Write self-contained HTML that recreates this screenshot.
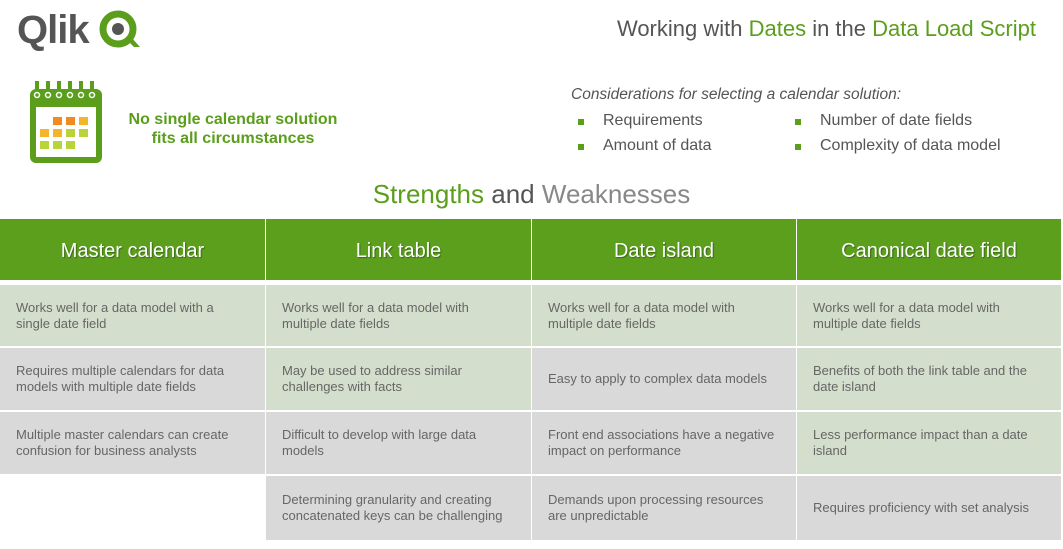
<!DOCTYPE html>
<html><head><meta charset="utf-8"><style>
*{margin:0;padding:0;box-sizing:border-box}
body{width:1063px;height:549px;background:#fff;position:relative;overflow:hidden;font-family:"Liberation Sans",sans-serif}
.a{position:absolute}
.g{color:#5a9e1c}
.hd{position:absolute;top:219px;height:61px;background:#5b9f1d;color:#fff;font-size:20px;display:flex;align-items:center;justify-content:center;padding-top:3px;text-shadow:1px 1px 1px rgba(0,0,0,.35)}
.c{position:absolute;color:#666;font-size:13px;line-height:16px;padding-left:16px;white-space:nowrap;display:flex;align-items:center}
.gr{background:#d3dfcc}.gy{background:#d9d9d9}
.bl{position:absolute;width:6px;height:6px;background:#5a9e1c}
.li{position:absolute;font-size:16px;color:#555}
</style></head><body>
<div class="a" style="left:17px;top:8px;font-size:40px;font-weight:bold;color:#555;letter-spacing:-1px">Qlik</div>
<svg class="a" style="left:98px;top:9px" width="46" height="42"><circle cx="20" cy="20" r="15" fill="none" stroke="#5a9e1c" stroke-width="7"/><circle cx="20" cy="20" r="6" fill="#555"/><path d="M27 29 L36 38 L42 38 L32 27Z" fill="#5a9e1c"/></svg>
<div class="a" style="right:27px;top:16px;font-size:22px;color:#555">Working with <span class="g">Dates</span> in the <span class="g">Data Load Script</span></div>
<svg class="a" style="left:29px;top:81px" width="76" height="84">
<rect x="1" y="8" width="72" height="74" rx="6" fill="#5a9e1c"/><rect x="7" y="26" width="60" height="50" fill="#fff"/>
<g fill="#5a9e1c"><rect x="6" y="0" width="4" height="10"/><rect x="17" y="0" width="4" height="10"/><rect x="28" y="0" width="4" height="10"/><rect x="39" y="0" width="4" height="10"/><rect x="50" y="0" width="4" height="10"/><rect x="61" y="0" width="4" height="10"/></g>
<g fill="none" stroke="#fff" stroke-width="1.5"><circle cx="8" cy="14" r="2.5"/><circle cx="19" cy="14" r="2.5"/><circle cx="30" cy="14" r="2.5"/><circle cx="41" cy="14" r="2.5"/><circle cx="52" cy="14" r="2.5"/><circle cx="63" cy="14" r="2.5"/></g>
<g fill="#f08a22"><rect x="24" y="36" width="9" height="8"/><rect x="37" y="36" width="9" height="8"/></g><rect x="50" y="36" width="9" height="8" fill="#f5b52a"/>
<g fill="#f5b52a"><rect x="11" y="48" width="9" height="8"/><rect x="24" y="48" width="9" height="8"/></g><g fill="#b8d43a"><rect x="37" y="48" width="9" height="8"/><rect x="50" y="48" width="9" height="8"/><rect x="11" y="60" width="9" height="8"/><rect x="24" y="60" width="9" height="8"/><rect x="37" y="60" width="9" height="8"/></g>
</svg>
<div class="a g" style="left:122px;top:110px;width:222px;text-align:center;font-size:16px;font-weight:bold;line-height:19px">No single calendar solution fits all circumstances</div>
<div class="a" style="left:571px;top:86px;font-size:15.5px;font-style:italic;color:#555">Considerations for selecting a calendar solution:</div>
<div class="bl" style="left:578px;top:119px"></div><div class="li" style="left:603px;top:112px">Requirements</div>
<div class="bl" style="left:578px;top:144px"></div><div class="li" style="left:603px;top:137px">Amount of data</div>
<div class="bl" style="left:795px;top:119px"></div><div class="li" style="left:820px;top:112px">Number of date fields</div>
<div class="bl" style="left:795px;top:144px"></div><div class="li" style="left:820px;top:137px">Complexity of data model</div>
<div class="a" style="left:0;width:1063px;text-align:center;top:179px;font-size:26px;color:#888"><span class="g">Strengths</span> <span style="color:#555">and</span> Weaknesses</div>

<div class="hd" style="left:0;width:265px">Master calendar</div>
<div class="hd" style="left:266px;width:265px">Link table</div>
<div class="hd" style="left:532px;width:264px">Date island</div>
<div class="hd" style="left:797px;width:264px">Canonical date field</div>

<div class="c gr" style="left:0;width:265px;top:285px;height:61px"><span>Works well for a data model with a<br>single date field</span></div>
<div class="c gr" style="left:266px;width:265px;top:285px;height:61px"><span>Works well for a data model with<br>multiple date fields</span></div>
<div class="c gr" style="left:532px;width:264px;top:285px;height:61px"><span>Works well for a data model with<br>multiple date fields</span></div>
<div class="c gr" style="left:797px;width:264px;top:285px;height:61px"><span>Works well for a data model with<br>multiple date fields</span></div>

<div class="c gy" style="left:0;width:265px;top:348px;height:62px"><span>Requires multiple calendars for data<br>models with multiple date fields</span></div>
<div class="c gr" style="left:266px;width:265px;top:348px;height:62px"><span>May be used to address similar<br>challenges with facts</span></div>
<div class="c gy" style="left:532px;width:264px;top:348px;height:62px"><span>Easy to apply to complex data models</span></div>
<div class="c gr" style="left:797px;width:264px;top:348px;height:62px"><span>Benefits of both the link table and the<br>date island</span></div>

<div class="c gy" style="left:0;width:265px;top:412px;height:62px"><span>Multiple master calendars can create<br>confusion for business analysts</span></div>
<div class="c gy" style="left:266px;width:265px;top:412px;height:62px"><span>Difficult to develop with large data<br>models</span></div>
<div class="c gy" style="left:532px;width:264px;top:412px;height:62px"><span>Front end associations have a negative<br>impact on performance</span></div>
<div class="c gr" style="left:797px;width:264px;top:412px;height:62px"><span>Less performance impact than a date<br>island</span></div>

<div class="c gy" style="left:266px;width:265px;top:476px;height:64px"><span>Determining granularity and creating<br>concatenated keys can be challenging</span></div>
<div class="c gy" style="left:532px;width:264px;top:476px;height:64px"><span>Demands upon processing resources<br>are unpredictable</span></div>
<div class="c gy" style="left:797px;width:264px;top:476px;height:64px"><span>Requires proficiency with set analysis</span></div>
</body></html>
